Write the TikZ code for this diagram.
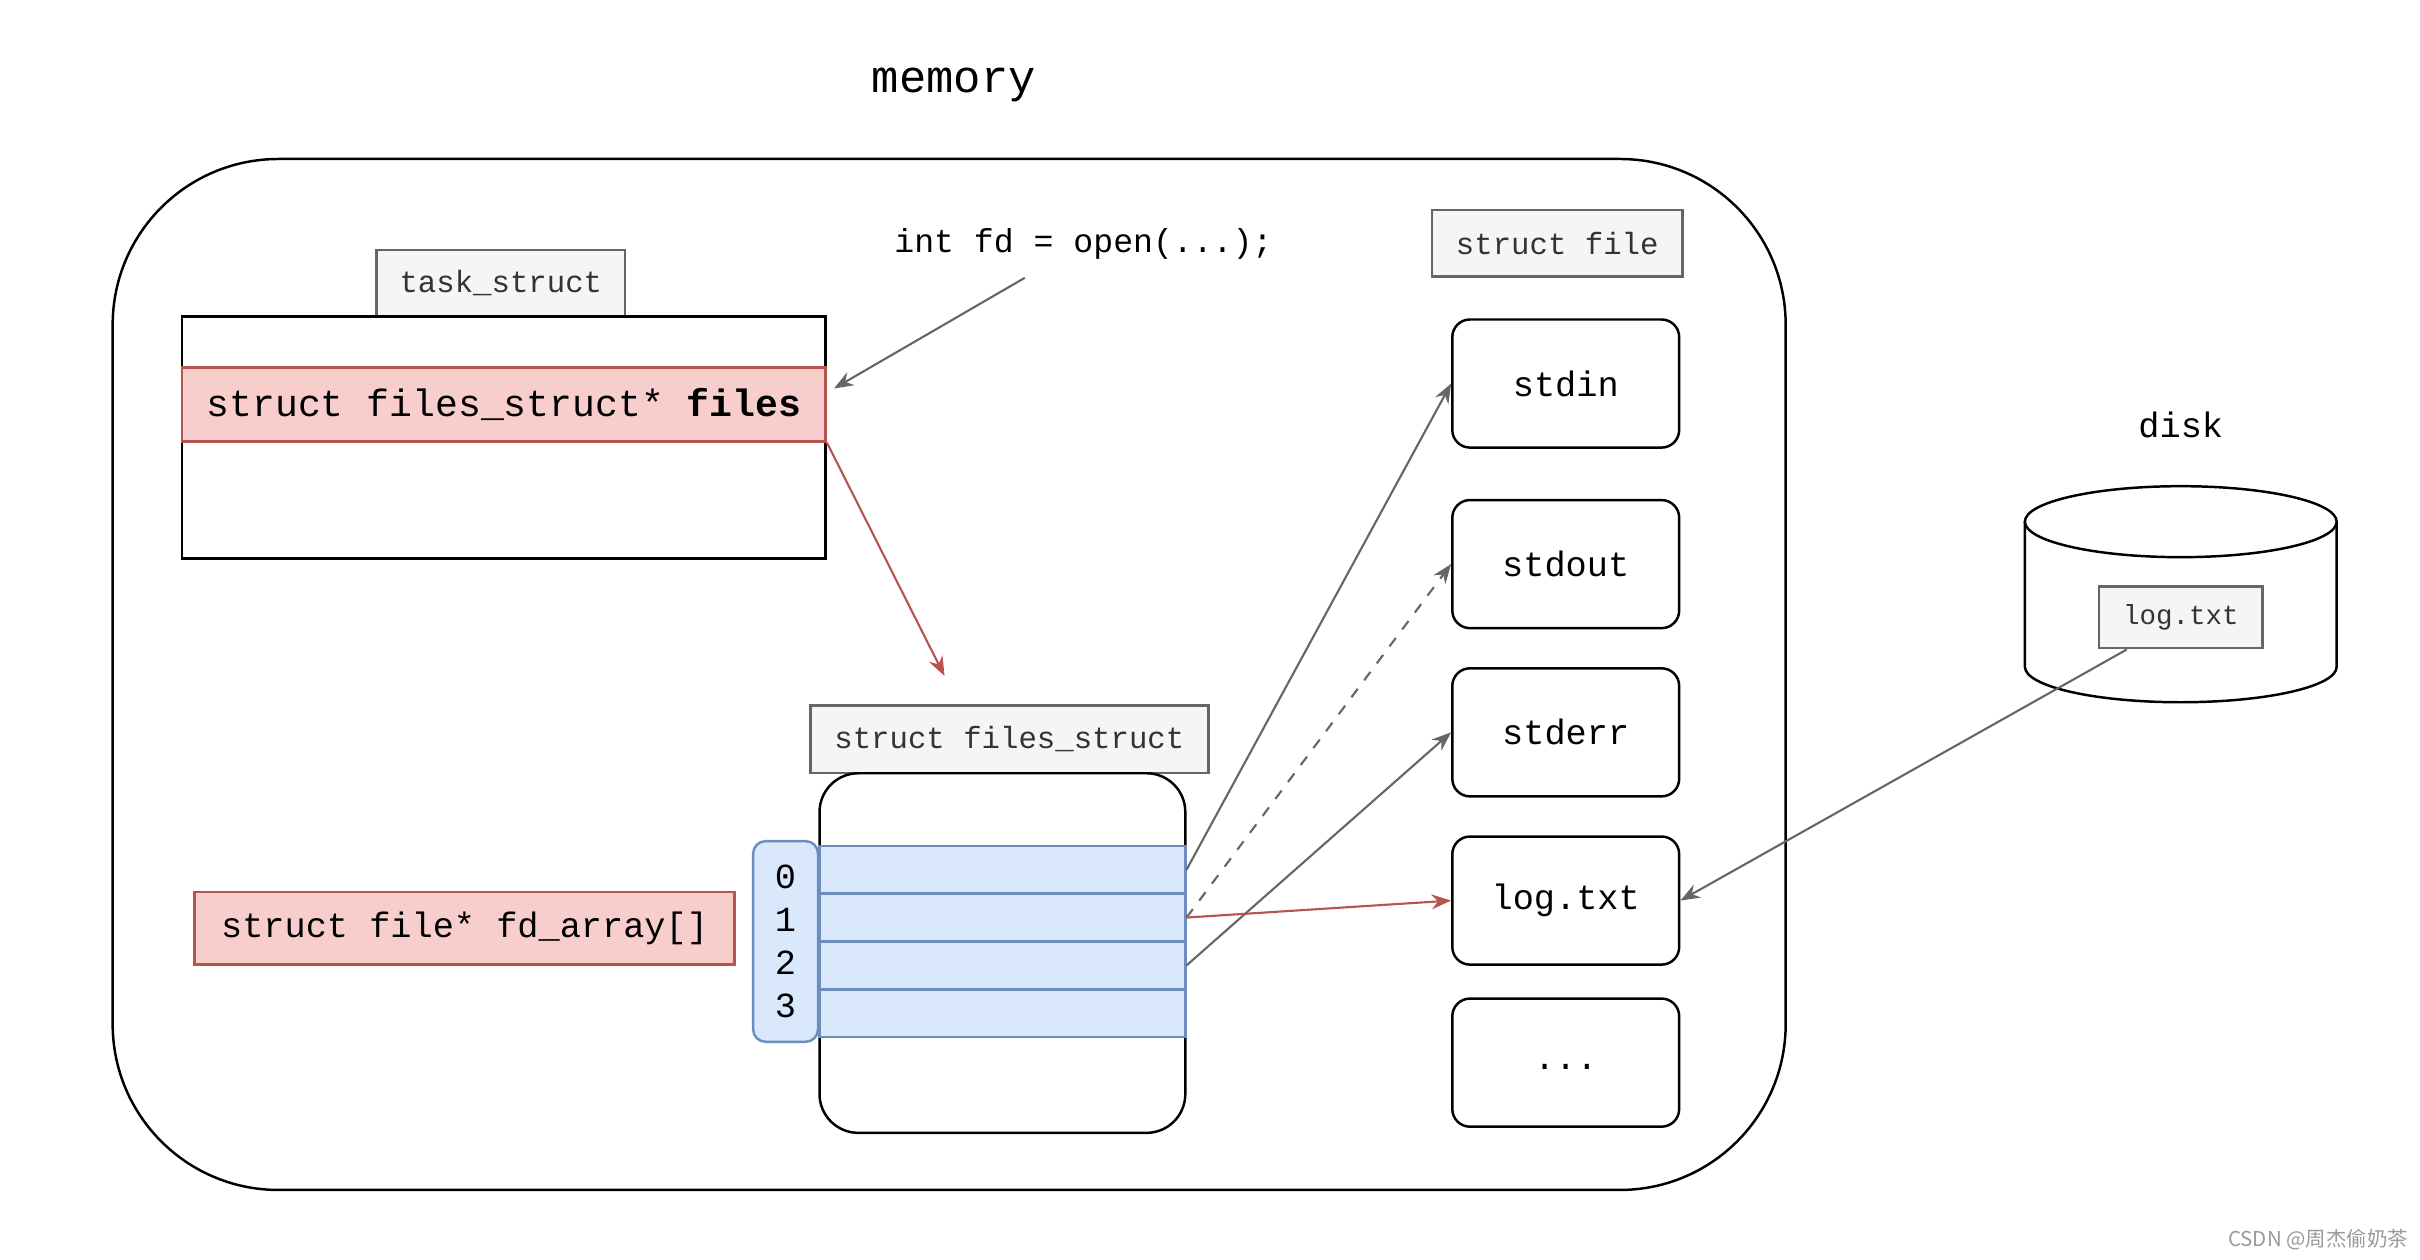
\documentclass[tikz,border=0pt]{standalone}
\usepackage{fontspec}
\usetikzlibrary{arrows.meta}
\newfontfamily\mono{Liberation Mono}
\newfontfamily\cjk{Noto Sans CJK SC}
\definecolor{tabfill}{HTML}{F5F5F5}
\definecolor{tabline}{HTML}{666666}
\definecolor{tabtext}{HTML}{333333}
\definecolor{redfill}{HTML}{F8CECC}
\definecolor{redline}{HTML}{B85450}
\definecolor{bluefill}{HTML}{DAE8FC}
\definecolor{blueline}{HTML}{6C8EBF}
\definecolor{wmark}{HTML}{9A9A9A}

\begin{document}
\begin{tikzpicture}[x=0.4375pt,y=-0.4375pt,
    sz/.style 2 args={minimum width=#1*0.4375pt,minimum height=#2*0.4375pt,inner sep=0pt},
    tab/.style={draw=tabline,fill=tabfill,text=tabtext,line width=0.7pt,font=\mono\fontsize{8.7}{10}\selectfont},
    redbox/.style={draw=redline,fill=redfill,line width=0.7pt},
    row/.style={draw=blueline,fill=bluefill,line width=0.7pt,sz={237}{31}},
    filebox/.style={draw,line width=0.7pt,rounded corners=5pt,sz={147}{83},font=\mono\fontsize{10}{12}\selectfont},
    ptr/.style={draw=tabline,line width=0.6pt,-{Stealth[length=5.5pt,width=4.2pt]}}]
  \useasboundingbox (0,0) rectangle (1568,816);
        \draw
        (615,437) node[draw,line width=0.7pt,rounded corners=47pt,sz={1084}{668}] (mem){}
        (618,55) node[font=\mono\fontsize{12.9}{15}\selectfont] (memlbl){memory}
        (324.5,183.5) node[tab,sz={161}{43}] (tasktab){task\_struct}
        (326.5,283.5) node[draw,line width=0.7pt,sz={417}{157}] (task){}
        (326.5,262) node[redbox,sz={417}{48},font=\mono\fontsize{10.8}{13}\selectfont] (files){struct files\_struct* \textbf{files}}
        (702,158) node[font=\mono\fontsize{9.4}{11}\selectfont] (open){int fd = open(...);}
        (654,479) node[tab,sz={258}{44}] (fstab){struct files\_struct}
        (649.5,617.5) node[draw,line width=0.7pt,rounded corners=11pt,sz={237}{233}] (fs){}
        (649.5,563.5) node[row] (r0){}
        (649.5,594.5) node[row] (r1){}
        (649.5,625.5) node[row] (r2){}
        (649.5,656.5) node[row] (r3){}
        (509,610) node[draw=blueline,fill=bluefill,line width=0.7pt,rounded corners=3.5pt,sz={42}{130},
          align=center,font=\mono\fontsize{10}{12.25}\selectfont] (idx){0\\1\\2\\3}
        (301,601.5) node[redbox,sz={350}{47},font=\mono\fontsize{10}{12}\selectfont] (fdarr){struct file* fd\_array[]}
        (1009,157.5) node[tab,sz={162}{43}] (sftab){struct file}
        (1014.5,248.5) node[filebox] (stdin){stdin}
        (1014.5,365.5) node[filebox] (stdout){stdout}
        (1014.5,474.5) node[filebox] (stderr){stderr}
        (1014.5,583.5) node[filebox] (logf){log.txt}
        (1014.5,688.5) node[filebox,text height=4pt] (more){...}
        (1413,275) node[font=\mono\fontsize{10}{12}\selectfont] (disklbl){disk};
      \begin{scope}[line width=0.7pt]
        \draw (1312,338) -- (1312,432)
          arc[start angle=180,end angle=360,x radius=44.19pt,y radius=10.06pt] -- (1514,338);
        \draw[fill=white] (1413,338) ellipse[x radius=44.19pt,y radius=10.06pt];
      \end{scope}
        \draw (1413,400) node[tab,sz={106}{40},font=\mono\fontsize{7.8}{9}\selectfont] (dlog){log.txt}
        (1502,803) node[text=wmark,font=\cjk\fontsize{5.8}{7}\selectfont] (wm){CSDN @周杰偷奶茶};
        \coordinate (o) at (664,180);
        \coordinate (fsin) at (612,438);
      \begin{scope}[ptr]
        \draw (o) to ([xshift=2pt,yshift=4.5pt]files.east);
        \draw[draw=redline] (files.south east) to (fsin);
        \draw (r0.east) to (stdin.west);
        \draw[dashed] (r1.east) to (stdout.west);
        \draw (r2.east) to (stderr.west);
        \draw[draw=redline] (r1.east) to (logf.west);
        \draw ([xshift=-15.3pt]dlog.south) to (logf.east);
      \end{scope}

    \end{tikzpicture}
\end{document}
